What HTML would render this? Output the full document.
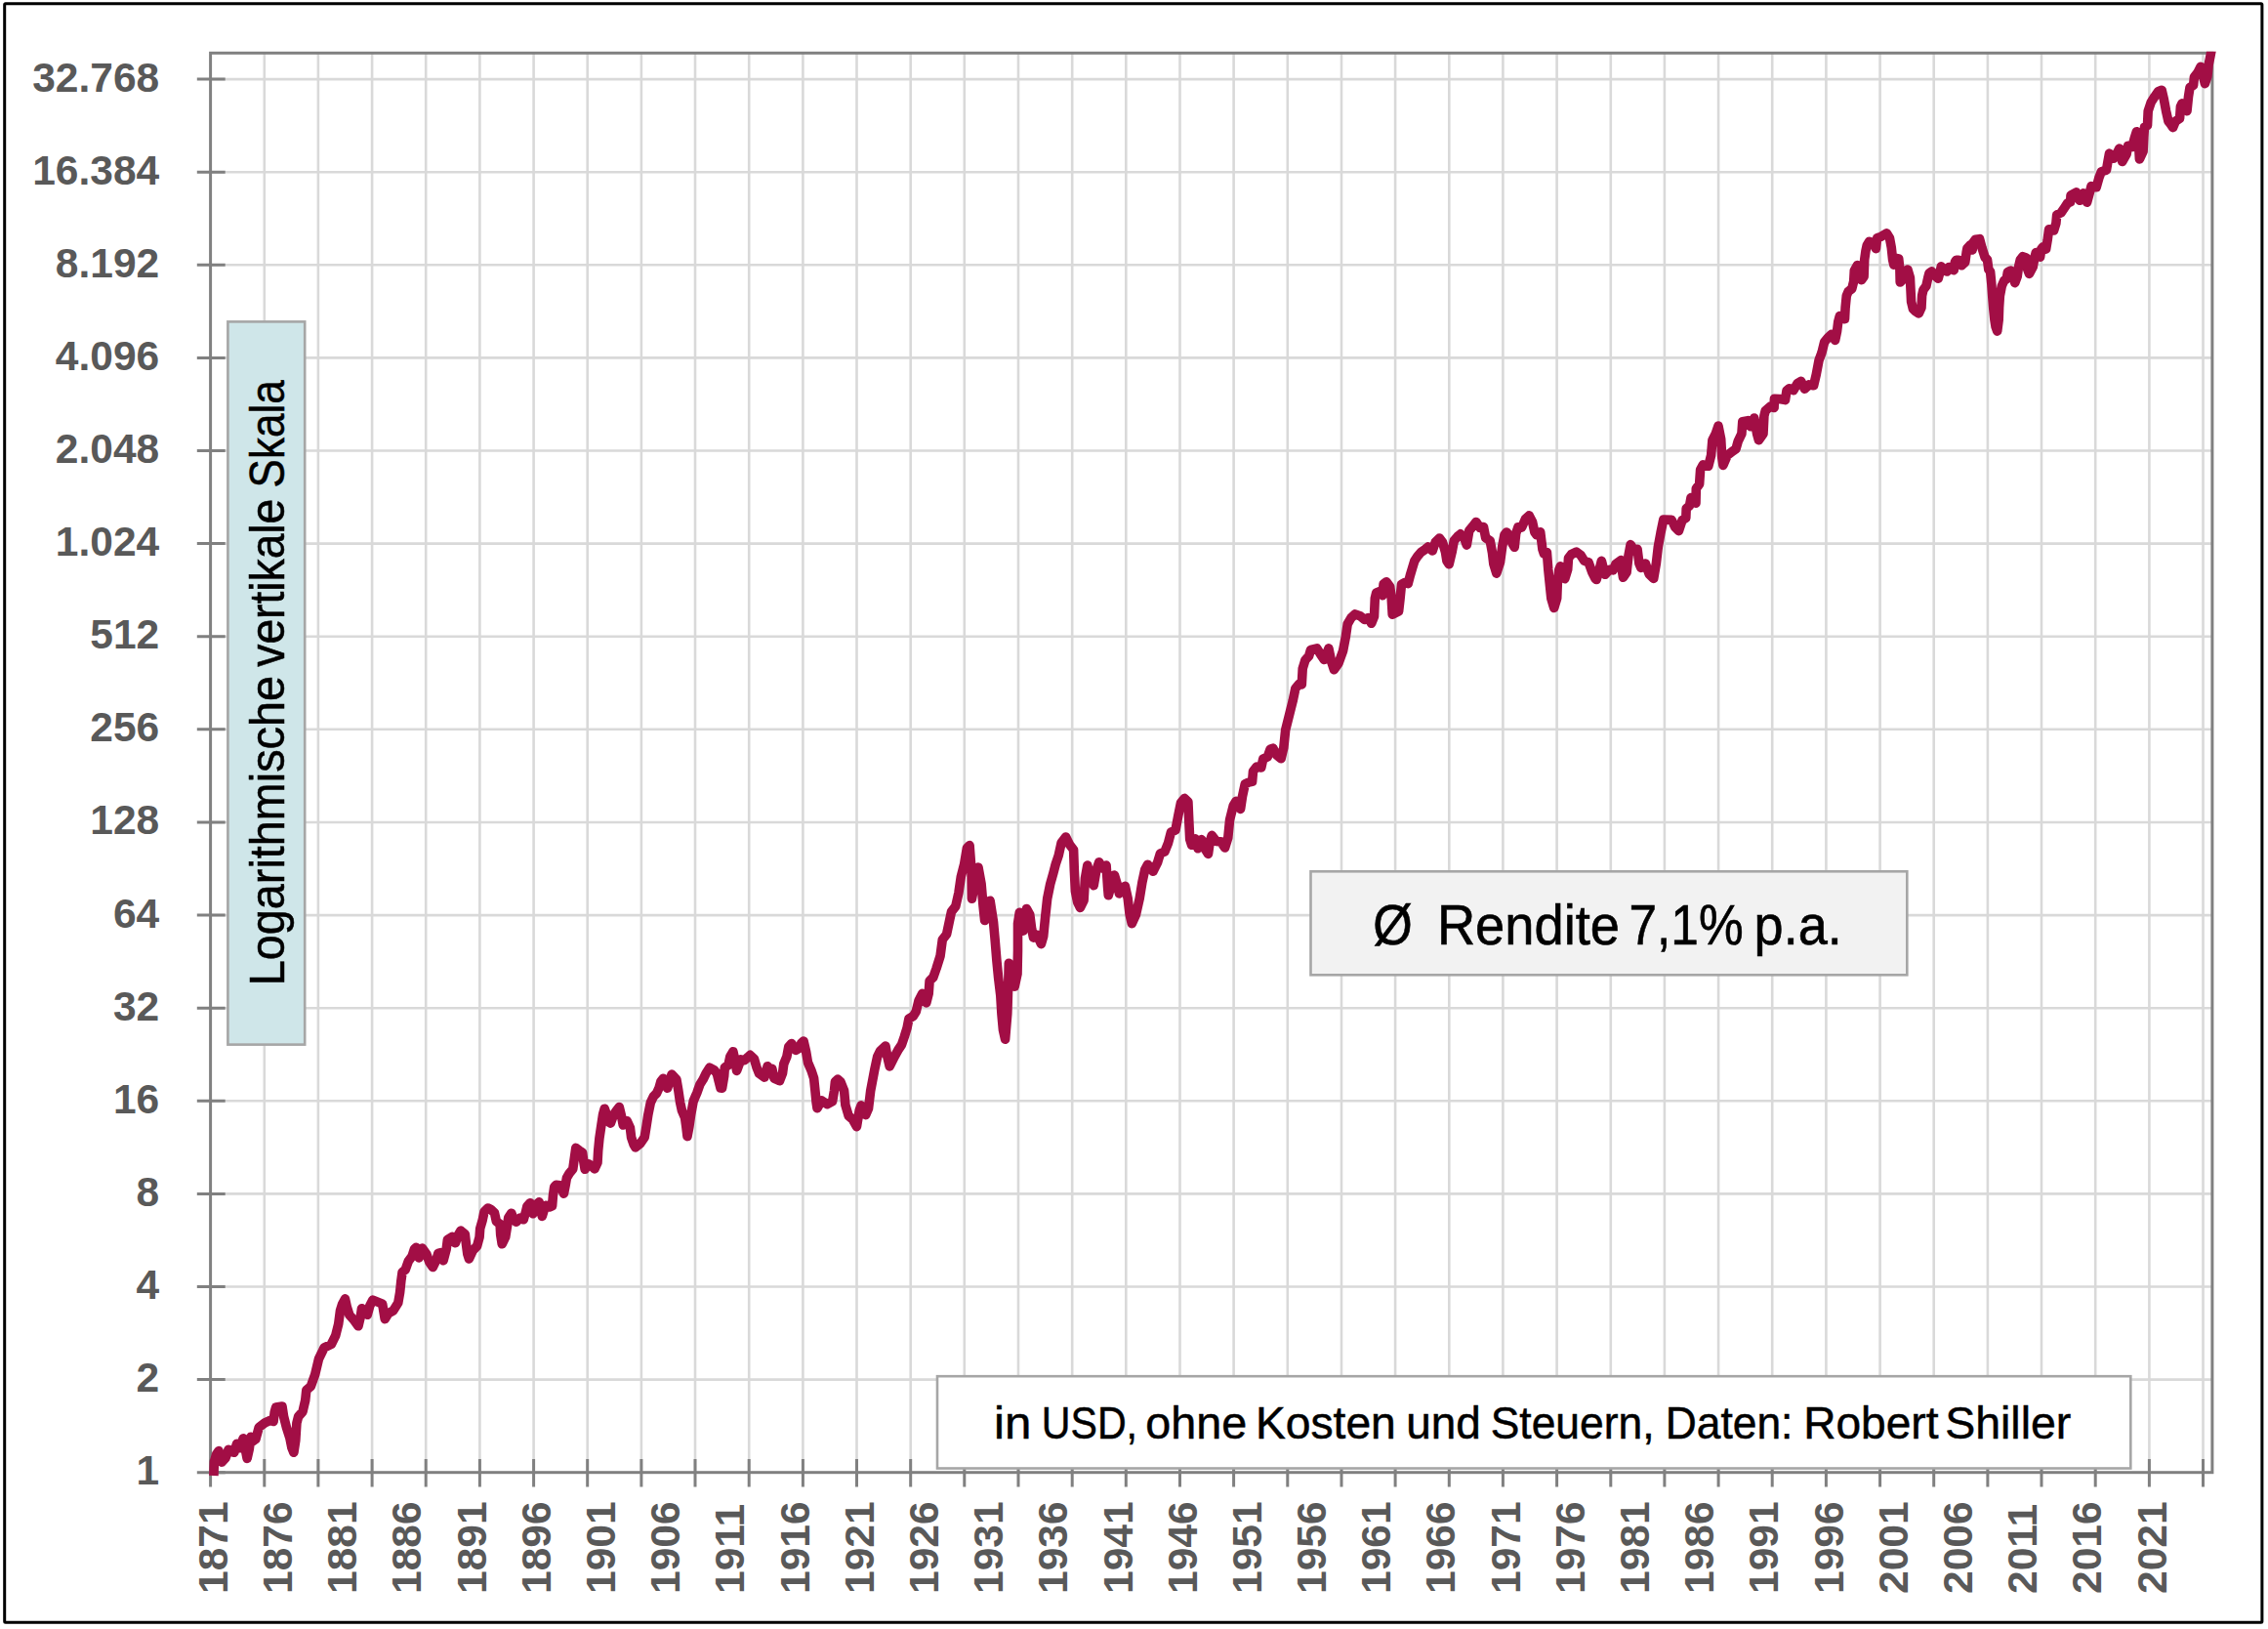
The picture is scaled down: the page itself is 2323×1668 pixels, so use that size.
<!DOCTYPE html>
<html lang="de"><head><meta charset="utf-8"><title>Aktienindex seit 1871 – logarithmische Skala</title>
<style>html,body{margin:0;padding:0;background:#fff}body{width:2323px;height:1668px;overflow:hidden}svg{display:block}text{font-family:"Liberation Sans",sans-serif}.ax{font-weight:bold;fill:#595959;font-size:42.5px}</style></head><body>
<svg width="2323" height="1668" viewBox="0 0 2323 1668">
<rect x="0" y="0" width="2323" height="1668" fill="#fff"/>
<rect x="4.7" y="3.7" width="2312.2" height="1657.5" fill="none" stroke="#000" stroke-width="3" rx="1"/>
<path d="M215.6 1412.6H2265.9M215.6 1317.5H2265.9M215.6 1222.4H2265.9M215.6 1127.3H2265.9M215.6 1032.2H2265.9M215.6 937.1H2265.9M215.6 842.0H2265.9M215.6 746.8H2265.9M215.6 651.7H2265.9M215.6 556.6H2265.9M215.6 461.5H2265.9M215.6 366.4H2265.9M215.6 271.3H2265.9M215.6 176.2H2265.9M215.6 81.1H2265.9M270.8 54.3V1507.7M325.9 54.3V1507.7M381.1 54.3V1507.7M436.2 54.3V1507.7M491.4 54.3V1507.7M546.6 54.3V1507.7M601.7 54.3V1507.7M656.9 54.3V1507.7M712.0 54.3V1507.7M767.2 54.3V1507.7M822.4 54.3V1507.7M877.5 54.3V1507.7M932.7 54.3V1507.7M987.8 54.3V1507.7M1043.0 54.3V1507.7M1098.2 54.3V1507.7M1153.3 54.3V1507.7M1208.5 54.3V1507.7M1263.6 54.3V1507.7M1318.8 54.3V1507.7M1374.0 54.3V1507.7M1429.1 54.3V1507.7M1484.3 54.3V1507.7M1539.4 54.3V1507.7M1594.6 54.3V1507.7M1649.8 54.3V1507.7M1704.9 54.3V1507.7M1760.1 54.3V1507.7M1815.2 54.3V1507.7M1870.4 54.3V1507.7M1925.6 54.3V1507.7M1980.7 54.3V1507.7M2035.9 54.3V1507.7M2091.0 54.3V1507.7M2146.2 54.3V1507.7M2201.4 54.3V1507.7M2256.5 54.3V1507.7" stroke="#d9d9d9" stroke-width="2.6" fill="none"/>
<rect x="215.6" y="54.3" width="2050.3" height="1453.4" fill="none" stroke="#808080" stroke-width="3"/>
<path d="M201.8 1507.7H230.7M201.8 1412.6H230.7M201.8 1317.5H230.7M201.8 1222.4H230.7M201.8 1127.3H230.7M201.8 1032.2H230.7M201.8 937.1H230.7M201.8 842.0H230.7M201.8 746.8H230.7M201.8 651.7H230.7M201.8 556.6H230.7M201.8 461.5H230.7M201.8 366.4H230.7M201.8 271.3H230.7M201.8 176.2H230.7M201.8 81.1H230.7M215.6 1494V1522.5M270.8 1494V1522.5M325.9 1494V1522.5M381.1 1494V1522.5M436.2 1494V1522.5M491.4 1494V1522.5M546.6 1494V1522.5M601.7 1494V1522.5M656.9 1494V1522.5M712.0 1494V1522.5M767.2 1494V1522.5M822.4 1494V1522.5M877.5 1494V1522.5M932.7 1494V1522.5M987.8 1494V1522.5M1043.0 1494V1522.5M1098.2 1494V1522.5M1153.3 1494V1522.5M1208.5 1494V1522.5M1263.6 1494V1522.5M1318.8 1494V1522.5M1374.0 1494V1522.5M1429.1 1494V1522.5M1484.3 1494V1522.5M1539.4 1494V1522.5M1594.6 1494V1522.5M1649.8 1494V1522.5M1704.9 1494V1522.5M1760.1 1494V1522.5M1815.2 1494V1522.5M1870.4 1494V1522.5M1925.6 1494V1522.5M1980.7 1494V1522.5M2035.9 1494V1522.5M2091.0 1494V1522.5M2146.2 1494V1522.5M2201.4 1494V1522.5M2256.5 1494V1522.5" stroke="#808080" stroke-width="3" fill="none"/>
<text class="ax" x="163.2" y="1520.1" text-anchor="end">1</text>
<text class="ax" x="163.2" y="1425.0" text-anchor="end">2</text>
<text class="ax" x="163.2" y="1329.9" text-anchor="end">4</text>
<text class="ax" x="163.2" y="1234.8" text-anchor="end">8</text>
<text class="ax" x="163.2" y="1139.7" text-anchor="end">16</text>
<text class="ax" x="163.2" y="1044.6" text-anchor="end">32</text>
<text class="ax" x="163.2" y="949.5" text-anchor="end">64</text>
<text class="ax" x="163.2" y="854.4" text-anchor="end">128</text>
<text class="ax" x="163.2" y="759.2" text-anchor="end">256</text>
<text class="ax" x="163.2" y="664.1" text-anchor="end">512</text>
<text class="ax" x="163.2" y="569.0" text-anchor="end">1.024</text>
<text class="ax" x="163.2" y="473.9" text-anchor="end">2.048</text>
<text class="ax" x="163.2" y="378.8" text-anchor="end">4.096</text>
<text class="ax" x="163.2" y="283.7" text-anchor="end">8.192</text>
<text class="ax" x="163.2" y="188.6" text-anchor="end">16.384</text>
<text class="ax" x="163.2" y="93.5" text-anchor="end">32.768</text>
<text class="ax" transform="translate(232.8 1632) rotate(-90)">1871</text>
<text class="ax" transform="translate(299.0 1632) rotate(-90)">1876</text>
<text class="ax" transform="translate(365.2 1632) rotate(-90)">1881</text>
<text class="ax" transform="translate(431.4 1632) rotate(-90)">1886</text>
<text class="ax" transform="translate(497.6 1632) rotate(-90)">1891</text>
<text class="ax" transform="translate(563.8 1632) rotate(-90)">1896</text>
<text class="ax" transform="translate(630.0 1632) rotate(-90)">1901</text>
<text class="ax" transform="translate(696.1 1632) rotate(-90)">1906</text>
<text class="ax" transform="translate(762.3 1632) rotate(-90)">1911</text>
<text class="ax" transform="translate(828.5 1632) rotate(-90)">1916</text>
<text class="ax" transform="translate(894.7 1632) rotate(-90)">1921</text>
<text class="ax" transform="translate(960.9 1632) rotate(-90)">1926</text>
<text class="ax" transform="translate(1027.1 1632) rotate(-90)">1931</text>
<text class="ax" transform="translate(1093.3 1632) rotate(-90)">1936</text>
<text class="ax" transform="translate(1159.5 1632) rotate(-90)">1941</text>
<text class="ax" transform="translate(1225.7 1632) rotate(-90)">1946</text>
<text class="ax" transform="translate(1291.9 1632) rotate(-90)">1951</text>
<text class="ax" transform="translate(1358.1 1632) rotate(-90)">1956</text>
<text class="ax" transform="translate(1424.3 1632) rotate(-90)">1961</text>
<text class="ax" transform="translate(1490.4 1632) rotate(-90)">1966</text>
<text class="ax" transform="translate(1556.6 1632) rotate(-90)">1971</text>
<text class="ax" transform="translate(1622.8 1632) rotate(-90)">1976</text>
<text class="ax" transform="translate(1689.0 1632) rotate(-90)">1981</text>
<text class="ax" transform="translate(1755.2 1632) rotate(-90)">1986</text>
<text class="ax" transform="translate(1821.4 1632) rotate(-90)">1991</text>
<text class="ax" transform="translate(1887.6 1632) rotate(-90)">1996</text>
<text class="ax" transform="translate(1953.8 1632) rotate(-90)">2001</text>
<text class="ax" transform="translate(2020.0 1632) rotate(-90)">2006</text>
<text class="ax" transform="translate(2086.2 1632) rotate(-90)">2011</text>
<text class="ax" transform="translate(2152.4 1632) rotate(-90)">2016</text>
<text class="ax" transform="translate(2218.6 1632) rotate(-90)">2021</text>
<defs><clipPath id="pc"><rect x="200" y="52.8" width="2090" height="1470"/></clipPath></defs>
<path d="M218.9 1511.0 219.4 1496.9 221.6 1489.2 224.0 1485.6 226.0 1490.8 227.1 1497.1 231.0 1493.0 234.0 1484.2 239.8 1487.3 242.6 1478.3 245.3 1482.8 249.2 1472.8 251.2 1483.6 253.1 1493.4 255.3 1483.6 256.9 1471.2 259.1 1475.7 261.9 1473.7 265.2 1461.5 271.3 1456.9 276.8 1454.4 280.1 1455.4 281.2 1446.1 282.6 1441.1 289.0 1440.0 290.6 1450.5 293.4 1461.5 296.9 1472.6 298.9 1482.5 300.9 1487.3 302.8 1474.8 303.9 1457.1 305.6 1450.5 310.0 1445.5 312.7 1433.9 313.8 1423.4 318.3 1419.6 322.7 1407.4 326.5 1391.4 332.1 1379.8 339.3 1376.5 343.7 1367.6 346.7 1355.6 348.5 1342.0 350.4 1335.8 353.5 1329.9 355.3 1338.3 357.8 1346.3 362.7 1351.9 367.0 1357.8 369.3 1348.1 370.5 1339.8 373.2 1342.0 376.3 1346.3 378.8 1337.0 381.9 1331.1 386.8 1333.1 391.7 1335.2 393.0 1343.2 394.2 1350.6 397.9 1344.7 402.8 1342.0 407.8 1334.0 409.6 1323.5 410.9 1311.1 412.1 1302.5 415.2 1300.2 418.3 1291.4 422.0 1286.4 424.4 1279.0 426.3 1277.2 429.1 1287.9 432.5 1278.1 436.8 1284.0 439.9 1292.6 443.3 1297.5 446.7 1290.7 448.8 1283.3 451.6 1282.5 454.1 1290.7 457.2 1279.0 458.4 1269.4 463.3 1266.4 466.4 1272.8 469.5 1264.2 472.0 1260.1 476.3 1263.6 477.5 1274.1 478.8 1284.0 480.4 1288.9 484.3 1280.5 488.6 1275.9 491.1 1266.7 491.7 1258.0 494.2 1249.4 496.0 1240.7 499.8 1237.0 502.8 1238.3 506.5 1242.0 508.4 1250.6 512.1 1253.3 512.7 1264.2 514.2 1273.8 517.7 1266.7 519.5 1255.6 520.7 1246.9 523.8 1242.2 526.3 1249.1 528.8 1251.2 532.5 1247.2 536.2 1248.8 538.6 1240.7 539.9 1235.2 543.0 1231.7 546.0 1242.8 549.1 1233.6 552.2 1230.9 555.3 1245.4 557.8 1237.0 559.6 1234.2 562.7 1236.0 565.6 1234.8 566.4 1224.7 567.7 1215.4 569.5 1213.3 573.8 1213.8 577.5 1222.2 579.4 1212.3 580.4 1206.2 583.1 1201.5 586.8 1196.9 589.8 1175.4 593.5 1178.1 596.6 1180.2 597.8 1189.3 599.1 1197.3 602.8 1191.7 606.5 1194.4 609.0 1196.9 612.0 1190.5 612.7 1178.1 613.9 1165.8 615.7 1153.5 617.6 1141.1 619.2 1135.2 621.3 1141.1 623.1 1148.5 625.4 1150.1 628.7 1141.1 631.2 1137.4 634.3 1133.5 636.7 1143.6 638.2 1152.0 642.3 1147.9 645.4 1154.7 646.6 1164.6 649.1 1172.0 650.9 1174.9 655.9 1170.7 660.2 1164.6 662.0 1153.5 663.9 1141.1 666.4 1128.8 669.4 1122.6 672.5 1119.5 675.0 1114.0 676.9 1107.2 679.3 1104.3 681.8 1110.2 683.6 1114.2 686.1 1106.5 688.0 1100.1 692.9 1105.3 694.8 1116.4 696.6 1128.8 698.5 1137.4 701.5 1144.2 702.8 1153.5 704.0 1163.6 705.9 1153.5 707.7 1141.1 710.2 1127.5 713.9 1118.9 717.0 1110.2 720.1 1105.3 723.1 1099.1 726.9 1093.2 731.2 1095.4 734.3 1099.1 736.1 1106.5 738.0 1114.0 739.6 1114.2 741.7 1101.6 742.3 1093.2 746.0 1090.5 747.8 1081.9 750.9 1076.7 752.8 1085.6 754.6 1096.4 757.7 1088.0 759.0 1084.9 762.7 1085.6 768.2 1080.4 772.5 1084.3 775.0 1093.0 777.5 1099.1 783.0 1103.1 786.1 1091.7 789.2 1099.1 790.8 1094.2 792.9 1104.1 798.5 1106.8 801.5 1099.1 802.8 1089.3 805.9 1081.9 807.7 1072.0 810.8 1068.5 815.1 1075.4 818.8 1073.2 820.7 1068.3 823.1 1066.0 825.6 1076.9 827.5 1088.0 831.2 1096.7 833.6 1104.1 834.9 1116.4 836.1 1128.8 837.0 1134.7 841.6 1126.9 847.1 1130.6 852.6 1127.8 854.5 1116.8 855.4 1107.6 858.1 1105.2 860.9 1107.6 864.6 1116.8 865.9 1131.5 869.2 1142.6 873.3 1146.2 877.5 1153.6 880.2 1137.0 882.1 1131.9 886.7 1141.6 889.5 1135.2 891.7 1116.8 895.9 1094.7 898.7 1081.8 901.4 1076.3 907.0 1071.1 908.8 1081.8 911.2 1091.9 916.2 1081.8 919.8 1075.3 923.5 1069.8 926.3 1061.5 929.1 1052.3 930.9 1043.1 935.5 1040.3 938.3 1035.7 941.0 1024.7 944.7 1017.3 948.8 1026.9 951.2 1017.3 952.1 1004.4 955.8 1000.8 959.1 991.5 963.1 978.7 965.3 962.1 969.6 956.6 972.3 943.7 974.5 933.5 978.8 928.0 981.9 914.2 984.3 897.6 987.6 885.0 990.4 868.4 993.1 865.6 995.0 890.5 995.4 920.3 999.6 899.7 1002.0 888.1 1005.1 905.2 1007.0 927.3 1008.6 942.4 1014.1 922.2 1017.5 943.9 1019.3 964.2 1020.8 982.6 1022.6 1001.0 1024.8 1019.4 1025.9 1037.8 1027.4 1054.4 1029.6 1064.2 1031.8 1037.8 1032.7 1010.2 1033.3 986.3 1036.4 999.2 1039.2 1010.2 1042.0 997.3 1042.5 973.4 1042.5 945.7 1044.3 934.3 1048.0 953.1 1050.2 938.4 1051.5 930.5 1054.8 936.5 1056.7 951.3 1058.5 960.1 1062.2 957.2 1066.4 966.6 1068.7 958.6 1070.5 940.2 1072.7 920.0 1075.7 905.2 1078.8 894.2 1081.2 885.0 1084.3 875.8 1087.1 862.9 1091.7 857.0 1095.4 864.7 1099.6 870.2 1100.3 890.5 1101.4 912.6 1103.6 923.6 1106.4 929.5 1110.1 921.8 1111.4 899.7 1113.8 886.1 1116.5 897.9 1120.2 906.7 1123.0 890.5 1125.7 882.8 1129.4 889.0 1133.1 886.1 1134.6 908.9 1135.3 916.8 1138.6 905.2 1141.4 896.0 1144.2 905.2 1146.4 915.0 1149.7 908.9 1152.4 907.4 1155.2 920.0 1157.1 936.5 1159.3 945.7 1163.5 936.5 1167.2 920.0 1169.9 903.4 1172.7 890.5 1175.5 885.3 1181.0 892.3 1185.6 883.1 1188.4 873.9 1193.0 872.1 1196.6 862.9 1199.4 852.2 1204.0 850.0 1206.8 835.2 1209.5 822.0 1213.2 817.4 1216.9 820.9 1217.8 840.8 1218.7 859.2 1220.6 865.3 1224.3 858.8 1227.0 868.8 1230.7 859.6 1233.8 868.5 1237.5 874.4 1239.3 861.5 1241.2 855.4 1245.8 861.5 1250.4 861.9 1254.6 868.0 1257.8 857.8 1259.6 839.4 1263.3 824.7 1266.0 820.4 1270.6 828.4 1272.5 815.5 1275.2 802.9 1278.9 801.1 1282.6 800.4 1283.5 789.7 1287.2 785.1 1291.8 786.0 1293.7 777.2 1298.3 775.0 1301.0 767.2 1303.8 766.1 1307.5 773.1 1312.1 776.8 1314.8 765.7 1316.7 747.3 1320.4 732.6 1324.1 717.9 1326.8 705.0 1330.5 700.4 1333.3 700.9 1334.2 684.7 1336.9 675.9 1340.6 671.8 1342.5 665.4 1348.9 663.9 1352.6 670.0 1356.3 675.5 1360.9 663.9 1363.6 677.3 1366.4 685.6 1371.0 679.2 1375.6 666.3 1378.4 651.6 1380.2 639.0 1383.9 632.6 1388.0 628.9 1393.1 630.8 1397.7 634.4 1401.4 632.6 1404.7 638.3 1407.5 631.3 1408.3 612.6 1409.7 607.0 1413.4 605.6 1416.1 609.7 1417.1 597.9 1420.1 595.8 1423.7 600.8 1425.2 612.6 1426.2 629.1 1429.6 627.4 1432.6 625.9 1434.1 612.6 1435.5 598.2 1439.2 596.4 1442.2 597.6 1444.4 589.0 1446.6 581.7 1448.8 574.3 1451.7 569.9 1455.4 565.5 1459.8 562.5 1462.8 559.9 1467.2 564.0 1470.2 555.2 1474.3 551.0 1477.5 555.2 1480.5 565.5 1481.9 574.3 1484.2 577.7 1487.1 565.5 1489.3 553.7 1493.0 549.3 1495.9 546.9 1499.6 550.7 1502.3 558.1 1504.8 543.4 1508.5 538.9 1511.9 534.5 1515.8 540.4 1519.5 539.5 1521.7 550.7 1526.2 553.7 1528.4 565.5 1529.8 577.3 1532.8 587.1 1536.5 575.8 1538.7 559.6 1540.9 547.8 1543.1 545.0 1546.8 549.3 1549.0 556.6 1551.2 560.3 1552.7 546.3 1554.9 539.7 1558.6 540.1 1562.3 531.6 1566.2 527.9 1569.6 534.5 1571.8 544.8 1574.0 547.8 1577.7 544.8 1579.9 562.5 1581.4 566.9 1584.4 565.5 1585.8 583.2 1587.3 597.9 1588.8 612.6 1591.7 622.5 1594.7 612.6 1595.4 594.9 1596.9 583.2 1598.4 579.8 1601.3 589.0 1602.8 592.7 1605.7 583.2 1606.5 571.4 1609.4 567.7 1614.6 565.2 1619.0 568.4 1622.7 574.3 1627.1 575.8 1630.8 586.1 1633.7 592.0 1635.2 593.5 1638.1 583.2 1640.4 574.3 1642.6 583.2 1644.0 588.3 1648.5 583.2 1652.1 583.9 1655.1 577.3 1660.3 573.6 1661.7 586.1 1662.5 591.3 1666.1 586.1 1667.9 569.4 1670.1 557.6 1674.3 563.9 1677.1 562.4 1678.9 576.8 1680.8 581.4 1685.4 577.1 1689.1 587.8 1693.7 592.4 1696.4 576.8 1698.3 560.2 1701.0 545.5 1703.8 532.0 1712.1 532.4 1715.8 539.9 1719.5 543.6 1723.1 532.6 1726.8 530.4 1727.2 520.6 1730.5 517.8 1732.0 509.6 1737.0 515.1 1737.3 500.3 1740.6 495.7 1741.6 481.0 1744.3 475.9 1749.8 477.3 1752.6 466.3 1753.9 450.6 1757.2 444.2 1760.0 436.1 1762.7 449.7 1763.7 468.1 1764.9 476.4 1769.2 466.3 1774.7 462.0 1778.0 459.8 1780.2 451.9 1783.9 444.2 1784.8 431.7 1790.4 430.7 1793.1 436.8 1796.8 428.0 1799.6 444.2 1801.4 450.6 1806.0 444.2 1806.9 425.8 1808.2 420.6 1813.4 416.0 1817.1 417.5 1817.4 408.3 1822.6 408.6 1828.5 409.6 1830.0 400.0 1832.7 397.8 1837.0 399.6 1841.0 392.6 1844.7 390.4 1848.4 398.1 1853.0 393.9 1857.6 394.8 1860.3 383.4 1863.1 368.7 1865.9 361.3 1868.6 350.3 1872.3 345.7 1876.0 342.3 1879.6 348.4 1881.5 339.6 1882.7 329.8 1884.3 323.6 1887.6 322.4 1889.5 326.7 1890.1 315.0 1891.3 302.8 1893.1 298.5 1896.8 295.6 1898.7 288.0 1899.3 277.0 1902.4 271.5 1904.2 275.8 1906.6 286.6 1909.1 283.1 1909.7 265.9 1910.9 257.3 1912.2 251.2 1914.6 247.3 1918.9 248.7 1921.4 254.6 1922.6 243.8 1926.9 242.2 1932.4 238.9 1935.5 243.8 1937.3 253.7 1938.6 265.9 1939.8 271.1 1941.0 264.1 1944.7 264.9 1945.9 275.8 1946.2 289.0 1949.6 285.6 1951.5 278.2 1953.9 276.0 1956.4 284.3 1957.0 296.6 1957.6 308.9 1959.4 316.3 1961.9 318.7 1965.3 320.9 1968.0 315.0 1968.6 302.8 1969.9 296.9 1972.9 292.9 1974.8 284.3 1976.0 279.7 1978.5 278.0 1981.5 281.9 1985.2 285.3 1987.1 278.2 1988.3 272.9 1992.0 277.0 1994.4 278.0 1996.3 273.5 2001.2 276.7 2002.4 268.4 2003.6 266.2 2006.1 266.2 2009.2 271.8 2012.8 268.4 2014.1 258.6 2014.9 254.3 2018.4 250.6 2020.2 255.9 2021.1 248.1 2023.3 245.3 2027.6 244.7 2030.0 253.7 2033.1 263.5 2035.5 265.9 2036.8 275.8 2038.6 278.2 2039.8 290.5 2040.7 302.8 2041.7 315.0 2042.9 327.3 2044.1 334.7 2045.7 339.1 2047.2 327.3 2047.6 315.0 2048.4 302.8 2050.3 292.9 2052.7 287.4 2055.2 285.8 2056.4 278.5 2059.5 277.0 2062.6 285.6 2063.8 289.6 2066.2 283.1 2067.5 273.3 2069.3 265.9 2071.8 262.7 2075.4 264.0 2076.7 275.8 2078.5 280.4 2082.2 273.3 2084.0 263.5 2085.3 258.6 2089.6 263.2 2090.8 254.9 2092.4 252.9 2095.6 255.1 2097.1 246.3 2098.6 234.8 2103.7 235.9 2105.9 228.6 2106.7 220.0 2111.1 217.8 2114.8 212.4 2117.7 208.0 2120.7 206.8 2121.0 199.9 2126.6 196.9 2130.2 205.3 2133.9 197.9 2137.6 207.2 2140.6 196.2 2142.0 190.6 2147.2 191.7 2150.1 181.4 2152.3 175.8 2157.5 174.1 2159.0 165.2 2160.5 157.1 2164.9 162.3 2168.6 156.4 2170.8 152.0 2173.7 165.5 2178.1 157.9 2179.6 149.3 2184.0 150.5 2186.2 141.7 2188.4 134.7 2190.7 150.5 2191.4 163.0 2195.1 154.9 2195.8 140.2 2196.5 130.2 2199.5 128.4 2200.2 113.7 2203.2 104.8 2206.9 98.9 2210.5 93.8 2214.2 92.3 2216.4 101.9 2218.6 113.7 2220.9 124.0 2223.1 126.9 2225.6 130.6 2228.2 124.3 2232.6 121.3 2233.4 109.2 2234.9 105.9 2240.0 113.7 2241.5 98.9 2243.0 89.4 2246.6 87.4 2247.4 79.0 2251.1 74.2 2254.0 68.3 2257.0 79.8 2258.4 85.7 2260.9 78.3 2262.1 66.5 2263.9 57.7 2265.3 50.3" fill="none" stroke="#a20e45" stroke-width="9.6" stroke-linejoin="round" stroke-linecap="butt" clip-path="url(#pc)"/>
<rect x="233.4" y="329.4" width="78.8" height="740.2" fill="#cfe6e9" stroke="#a6a6a6" stroke-width="2.6"/>
<text transform="translate(291.4 1006.6) rotate(-90)" font-size="50.5" fill="#000" stroke="#000" stroke-width="0.5"><tspan x="-2.6" textLength="317.1" lengthAdjust="spacingAndGlyphs">Logarithmische</tspan> <tspan x="323.9" textLength="172.0" lengthAdjust="spacingAndGlyphs">vertikale</tspan> <tspan x="507.1" textLength="110.2" lengthAdjust="spacingAndGlyphs">Skala</tspan></text>
<rect x="1342.5" y="892.3" width="610.8" height="106" fill="#f2f2f2" stroke="#a6a6a6" stroke-width="2.6"/>
<text y="966.5" font-size="57.5" fill="#000" stroke="#000" stroke-width="0.6"><tspan x="1406.2" textLength="40.5" lengthAdjust="spacingAndGlyphs">Ø</tspan> <tspan x="1471.9" textLength="187.1" lengthAdjust="spacingAndGlyphs">Rendite</tspan> <tspan x="1668.5" textLength="117.1" lengthAdjust="spacingAndGlyphs">7,1%</tspan> <tspan x="1796.6" textLength="90.2" lengthAdjust="spacingAndGlyphs">p.a.</tspan></text>
<rect x="960" y="1409.2" width="1222.3" height="94.3" fill="#fff" stroke="#a6a6a6" stroke-width="2.6"/>
<text y="1473.3" font-size="46.8" fill="#000" stroke="#000" stroke-width="0.5"><tspan x="1018.1" textLength="38.3" lengthAdjust="spacingAndGlyphs">in</tspan> <tspan x="1066.8" textLength="98.2" lengthAdjust="spacingAndGlyphs">USD,</tspan> <tspan x="1173.3" textLength="103.8" lengthAdjust="spacingAndGlyphs">ohne</tspan> <tspan x="1286.0" textLength="143.8" lengthAdjust="spacingAndGlyphs">Kosten</tspan> <tspan x="1440.3" textLength="76.6" lengthAdjust="spacingAndGlyphs">und</tspan> <tspan x="1526.7" textLength="167.8" lengthAdjust="spacingAndGlyphs">Steuern,</tspan> <tspan x="1705.8" textLength="130.6" lengthAdjust="spacingAndGlyphs">Daten:</tspan> <tspan x="1847.2" textLength="138.3" lengthAdjust="spacingAndGlyphs">Robert</tspan> <tspan x="1992.2" textLength="129.1" lengthAdjust="spacingAndGlyphs">Shiller</tspan></text>
</svg></body></html>
